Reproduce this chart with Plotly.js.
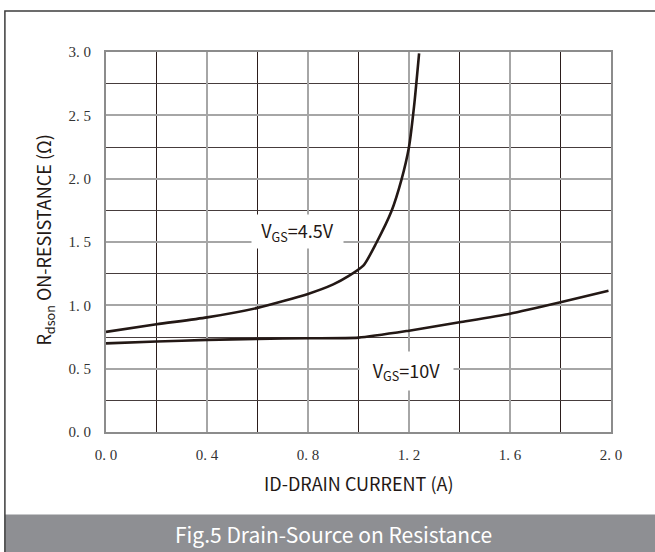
<!DOCTYPE html>
<html>
<head>
<meta charset="utf-8">
<script src="https://cdn.plot.ly/plotly-3.0.1.min.js"></script>
<style>
html,body{margin:0;padding:0;background:#fff;}
#chart{width:655px;height:552px;}
</style>
</head>
<body>
<div id="chart"></div>
<script>
// Data
const idCurrent45 = [0, 0.2, 0.4, 0.6, 0.8, 0.9, 0.96, 1.02, 1.07, 1.13, 1.17, 1.20, 1.22, 1.24];
const rdson45     = [0.79, 0.85, 0.905, 0.98, 1.09, 1.165, 1.23, 1.315, 1.49, 1.74, 1.99, 2.25, 2.57, 2.99];
const idCurrent10 = [0, 0.2, 0.4, 0.6, 0.8, 1.0, 1.2, 1.4, 1.6, 1.8, 1.99];
const rdson10     = [0.70, 0.714, 0.727, 0.735, 0.74, 0.745, 0.80, 0.866, 0.934, 1.024, 1.115];

const xTickVals = [0, 0.4, 0.8, 1.2, 1.6, 2.0];
const xTickText = ['0. 0', '0. 4', '0. 8', '1. 2', '1. 6', '2. 0'];
const xMinorVals = [0.2, 0.6, 1.0, 1.4, 1.8];
const yTickVals = [0, 0.5, 1.0, 1.5, 2.0, 2.5, 3.0];
const yTickText = ['0. 0', '0. 5', '1. 0', '1. 5', '2. 0', '2. 5', '3. 0'];
const yMinorVals = [0.25, 0.75, 1.25, 1.75, 2.25, 2.75];

const lineColor = '#231815';
const sans = '"Noto Sans CJK SC", "Noto Sans", sans-serif';
const serif = '"Liberation Serif", "DejaVu Serif", serif';

const traces = [
  {x: idCurrent45, y: rdson45, mode: 'lines', line: {color: lineColor, width: 2.6, shape: 'spline', smoothing: 0.6}, hoverinfo: 'skip'},
  {x: idCurrent10, y: rdson10, mode: 'lines', line: {color: lineColor, width: 2.6, shape: 'spline', smoothing: 0.6}, hoverinfo: 'skip'}
];

const axisCommon = {
  showline: true, mirror: true, linecolor: '#8c8c8c', linewidth: 2,
  zeroline: false, showgrid: true, gridcolor: '#a6a6a6', gridwidth: 2,
  tickmode: 'array', ticks: 'outside', tickcolor: 'rgba(0,0,0,0)',
  tickfont: {family: serif, size: 15, color: '#333'}, fixedrange: true
};

const layout = {
  width: 655, height: 552,
  margin: {l: 106, r: 44, t: 52, b: 120, pad: 0},
  paper_bgcolor: '#ffffff', plot_bgcolor: '#ffffff',
  showlegend: false,
  xaxis: Object.assign({}, axisCommon, {
    range: [0, 2], tickvals: xTickVals, ticktext: xTickText, ticklen: 8,
    minor: {tickmode: 'array', tickvals: xMinorVals, showgrid: true, gridcolor: '#2b1d1b', gridwidth: 1, ticks: ''}
  }),
  yaxis: Object.assign({}, axisCommon, {
    range: [0, 3], tickvals: yTickVals, ticktext: yTickText, ticklen: 10,
    minor: {tickmode: 'array', tickvals: yMinorVals, showgrid: true, gridcolor: '#463c3c', gridwidth: 1, ticks: ''}
  }),
  shapes: [
    {type: 'rect', xref: 'paper', yref: 'paper', x0: -0.2002, x1: 1.1, y0: -0.2168, y1: -0.32,
     fillcolor: '#8e8f93', line: {width: 0}, layer: 'above'},
    {type: 'rect', xref: 'paper', yref: 'paper', x0: -0.2002, x1: 1.2, y0: 1.1078, y1: -0.4,
     fillcolor: 'rgba(0,0,0,0)', line: {color: '#3c3c3c', width: 1.5}, layer: 'above'}
  ],
  annotations: [
    {xref: 'x', yref: 'y', x: 0.759, y: 1.585, showarrow: false, xanchor: 'center', yanchor: 'middle',
     text: 'V<sub>GS</sub>=4.5V', font: {family: sans, size: 18, color: '#231815'},
     bgcolor: '#ffffff', width: 91, height: 33, borderpad: 0},
    {xref: 'x', yref: 'y', x: 1.191, y: 0.485, showarrow: false, xanchor: 'center', yanchor: 'middle',
     text: 'V<sub>GS</sub>=10V', font: {family: sans, size: 18, color: '#231815'},
     bgcolor: '#ffffff', width: 93, height: 38, borderpad: 0},
    {xref: 'paper', yref: 'paper', x: 0.5, y: -0.1353, showarrow: false, xanchor: 'center', yanchor: 'middle',
     text: 'ID-DRAIN CURRENT (A)', font: {family: sans, size: 18, color: '#231815'}},
    {xref: 'paper', yref: 'paper', x: -0.121, y: 0.506, showarrow: false, textangle: -90, xanchor: 'center', yanchor: 'middle',
     text: 'R<sub>dson</sub> ON-RESISTANCE (Ω)', font: {family: sans, size: 18, color: '#231815'}},
    {xref: 'paper', yref: 'paper', x: 0.45, y: -0.2694, showarrow: false, xanchor: 'center', yanchor: 'middle',
     text: 'Fig.5 Drain-Source on Resistance', font: {family: sans, size: 21, color: '#ffffff'}}
  ]
};

Plotly.newPlot('chart', traces, layout, {displayModeBar: false, staticPlot: true});
</script>
</body>
</html>
